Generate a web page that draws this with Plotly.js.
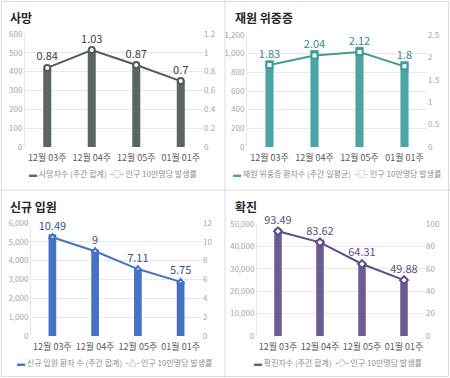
<!DOCTYPE html>
<html>
<head>
<meta charset="utf-8">
<script src="https://cdn.plot.ly/plotly-3.0.1.min.js"></script>
<style>html,body{margin:0;padding:0;background:#fff;}#chart{width:450px;height:378px;}</style>
</head>
<body>
<div id="chart"></div>
<script>
// ---- data ----
const weeks = ['12월 03주', '12월 04주', '12월 05주', '01월 01주'];
const deathCount = [420, 515, 435, 350];
const deathRate = [0.84, 1.03, 0.87, 0.7];
const icuCount = [930, 1040, 1075, 920];
const icuRate = [1.83, 2.04, 2.12, 1.8];
const admitCount = [5400, 4600, 3600, 2900];
const admitRate = [10.49, 9, 7.11, 5.75];
const caseCount = [48000, 43000, 33000, 25800];
const caseRate = [93.49, 83.62, 64.31, 49.88];

const panelTitles = ['사망', '재원 위중증', '신규 입원', '확진'];
const barNames = ['사망자수 (주간 합계)', '재원 위중증 환자수 (주간 일평균)', '신규 입원 환자 수 (주간 합계)', '확진자수 (주간 합계)'];
const rateName = '인구 10만명당 발생률';

// ---- styling ----
const W = 450, H = 378;
const FONT = '"Noto Sans CJK KR", "Noto Sans", sans-serif';
const panels = [
  {counts: deathCount, rates: deathRate, x: [25, 203], y: [34, 147], lmax: 600, ldt: 100, rmax: 1.2, rdt: 0.2,
   bar: '#5b6664', line: '#595959', lab: '#404040', sym: 'circle', uni: '○', tx: 8, ty: 17, lx: 113, ly: 173},
  {counts: icuCount, rates: icuRate, x: [247, 427], y: [35, 147], lmax: 1200, ldt: 200, rmax: 2.5, rdt: 0.5,
   bar: '#4ba6a3', line: '#3f9d99', lab: '#3a8a87', sym: 'square', uni: '□', tx: 233, ty: 17, lx: 337, ly: 173},
  {counts: admitCount, rates: admitRate, x: [31, 202], y: [223, 336], lmax: 6000, ldt: 1000, rmax: 12, rdt: 2,
   bar: '#4472c4', line: '#4472c4', lab: '#2f5597', sym: 'triangle-up', uni: '△', tx: 8, ty: 206, lx: 114, ly: 362},
  {counts: caseCount, rates: caseRate, x: [257, 425], y: [224, 336], lmax: 50000, ldt: 10000, rmax: 100, rdt: 20,
   bar: '#6d5c93', line: '#5e4e87', lab: '#5e4e87', sym: 'diamond', uni: '◇', tx: 233, ty: 206, lx: 338, ly: 362}
];

const traces = [];
const layout = {
  width: W, height: H,
  margin: {l: 0, r: 0, t: 0, b: 0},
  paper_bgcolor: '#ffffff', plot_bgcolor: '#ffffff',
  font: {family: FONT, color: '#595959'},
  showlegend: false,
  hovermode: false,
  annotations: [],
  shapes: [
    {type: 'rect', xref: 'paper', yref: 'paper', x0: 1.5 / W, x1: 1 - 1.5 / W, y0: 1.5 / H, y1: 1 - 1.5 / H, line: {color: '#dcdcdc', width: 1}},
    {type: 'line', xref: 'paper', yref: 'paper', x0: 225 / W, x1: 225 / W, y0: 0, y1: 1, line: {color: '#dcdcdc', width: 1}},
    {type: 'line', xref: 'paper', yref: 'paper', x0: 0, x1: 1, y0: 1 - 190 / H, y1: 1 - 190 / H, line: {color: '#dcdcdc', width: 1}}
  ]
};

panels.forEach((p, i) => {
  const xn = i === 0 ? '' : String(i + 1);
  const yl = String(2 * i + 1), yr = String(2 * i + 2);
  const yln = yl === '1' ? '' : yl;
  traces.push({
    type: 'bar', x: weeks, y: p.counts, name: barNames[i],
    xaxis: 'x' + xn, yaxis: 'y' + yln,
    marker: {color: p.bar}, width: 0.18
  });
  traces.push({
    type: 'scatter', mode: 'lines+markers+text', x: weeks, y: p.rates, name: rateName,
    xaxis: 'x' + xn, yaxis: 'y' + yr,
    line: {color: p.line, width: 2},
    marker: {symbol: p.sym, size: 6, color: '#ffffff', line: {color: p.line, width: 2}},
    text: p.rates.map(v => String(v)), textposition: 'top center',
    textfont: {size: 11, color: p.lab, family: FONT},
    cliponaxis: false
  });
  const dx = [p.x[0] / W, p.x[1] / W];
  const dy = [1 - p.y[1] / H, 1 - p.y[0] / H];
  layout['xaxis' + xn] = {
    domain: dx, anchor: 'y' + yln, type: 'category', range: [-0.5, 3.5],
    showgrid: false, zeroline: false, showline: false, ticks: '', tickangle: 0,
    ticklabelstandoff: 4,
    tickfont: {size: 9, color: '#595959'}, fixedrange: true
  };
  layout['yaxis' + yln] = {
    domain: dy, anchor: 'x' + xn, range: [0, p.lmax], dtick: p.ldt, tick0: 0,
    tickformat: ',d', gridcolor: '#e8e8e8', gridwidth: 1, zeroline: false,
    showline: true, linecolor: '#e8e8e8', linewidth: 1, ticks: '',
    tickfont: {size: 8, color: '#a6a6a6'}, fixedrange: true
  };
  layout['yaxis' + yr] = {
    domain: dy, anchor: 'x' + xn, overlaying: 'y' + yln, side: 'right',
    range: [0, p.rmax], dtick: p.rdt, tick0: 0, showgrid: false, zeroline: false,
    showline: false, ticks: '', tickfont: {size: 8, color: '#a6a6a6'}, fixedrange: true
  };
  layout.annotations.push({
    xref: 'paper', yref: 'paper', x: p.tx / W, y: 1 - p.ty / H, xanchor: 'left', yanchor: 'middle',
    text: '<b>' + panelTitles[i] + '</b>', showarrow: false,
    font: {size: 12, color: '#262626', family: FONT}
  });
  layout.annotations.push({
    xref: 'paper', yref: 'paper', x: p.lx / W, y: 1 - p.ly / H, xanchor: 'center', yanchor: 'middle',
    text: '<span style="color:' + p.bar + '">▬</span> ' + barNames[i] +
          '  <span style="color:' + p.line + '">-' + p.uni + '-</span> ' + rateName,
    showarrow: false, font: {size: 8, color: '#8c8c8c', family: FONT}
  });
});

Plotly.newPlot('chart', traces, layout, {staticPlot: true, displayModeBar: false});
</script>
</body>
</html>
